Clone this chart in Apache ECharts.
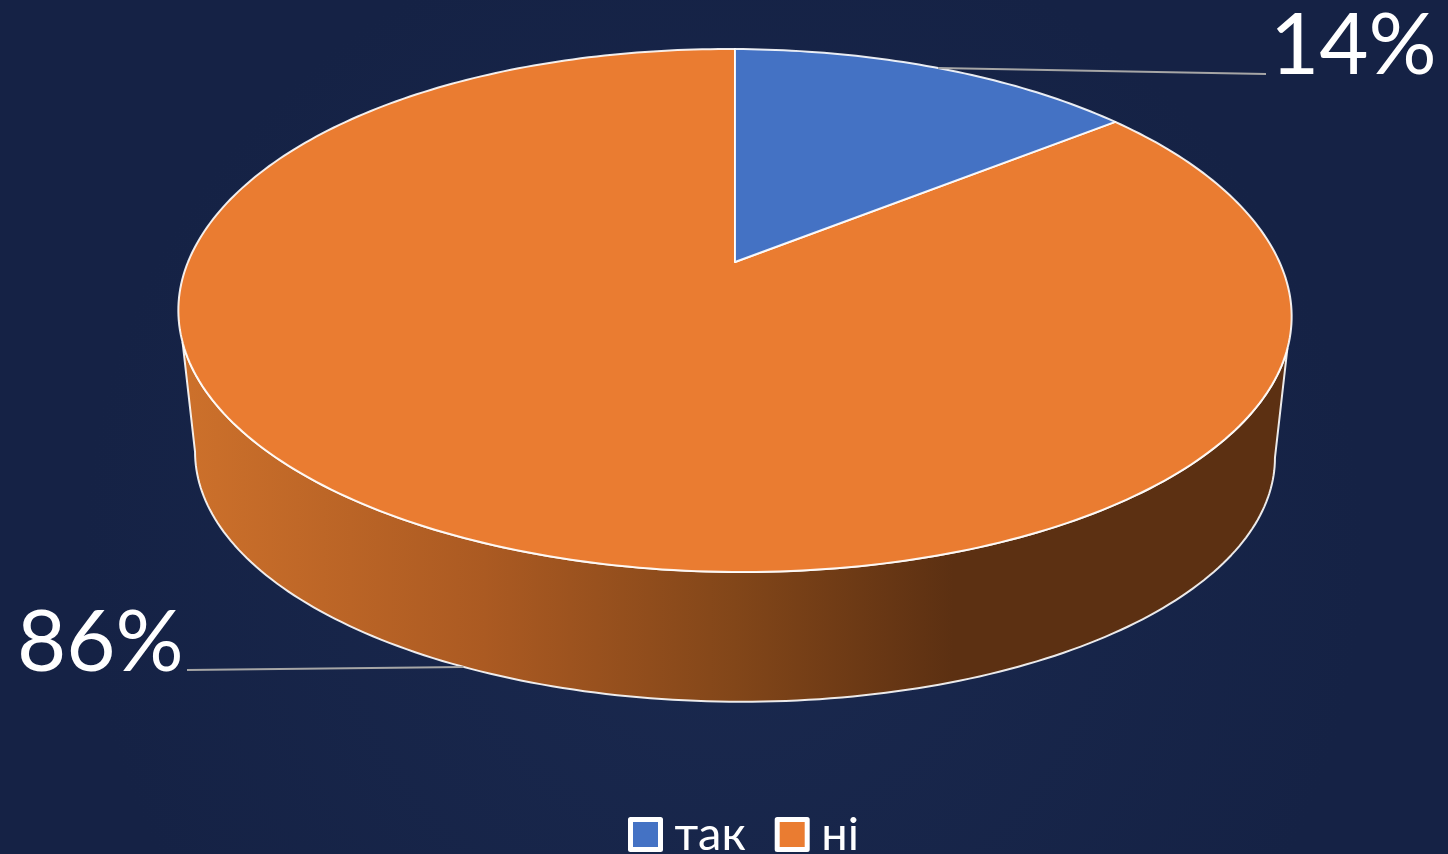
<!DOCTYPE html>
<html>
<head>
<meta charset="utf-8">
<style>
html, body { margin: 0; padding: 0; background: #17264a; overflow: hidden; }
#main { width: 1448px; height: 854px; }
</style>
<script src="https://cdn.jsdelivr.net/npm/echarts@6/dist/echarts.min.js"></script>
</head>
<body>
<div id="main"></div>
<script>
var categories = ['так', 'ні'];
var values = [14, 86];
var colors = ['#4472c4', '#ea7c31'];

var total = values[0] + values[1];
var rimColor = 'rgba(255,255,255,0.9)';
var leaderColor = '#a6a6a6';
var labelFont = '85px Lato';

// перспектива диска: кут рахуємо за годинниковою від верху
function topPoint(deg) {
    var t = deg * Math.PI / 180;
    var u = Math.sin(t), v = Math.cos(t);
    var w = 1 + 0.1855 * v;
    var bulge = v > 0 ? 12 * u * v * v : 0;
    return [735 + (547 * u + bulge) / w, 262 - (252.5 * v - 3 * u) / w + 3 * u * u];
}
function bottomPoint(deg) {
    var p = topPoint(deg);
    return [735 + 0.97 * (p[0] - 735), 452 + 0.955 * (p[1] - 310.5)];
}
function arc(fn, from, to) {
    var pts = [];
    var n = Math.ceil(Math.abs(to - from));
    for (var i = 0; i <= n; i++) {
        pts.push(fn(from + (to - from) * i / n));
    }
    return pts;
}

function face(from, to, color) {
    return {
        type: 'polygon',
        shape: { points: [[735, 262]].concat(arc(topPoint, from, to)) },
        style: { fill: color, stroke: rimColor, lineWidth: 2, lineJoin: 'round' }
    };
}
function leader(p1, p2) {
    return {
        type: 'line',
        shape: { x1: p1[0], y1: p1[1], x2: p2[0], y2: p2[1] },
        style: { stroke: leaderColor, lineWidth: 2 }
    };
}
function label(text, x, y) {
    return {
        type: 'text',
        style: { text: text, x: x, y: y, font: labelFont, fill: '#fff', textAlign: 'left', textVerticalAlign: 'middle' }
    };
}

var wallFill = new echarts.graphic.LinearGradient(190, 0, 1280, 0, [
    { offset: 0, color: '#cc702b' },
    { offset: 0.27, color: '#ab5a22' },
    { offset: 0.5, color: '#824619' },
    { offset: 0.7, color: '#5c3012' },
    { offset: 1, color: '#5c3012' }
], true);

function renderNi(params, api) {
    var start = values[0] / total * 360;
    var mid = start + api.value(0) / total * 180;
    var wall = arc(topPoint, 107.6, 252.4).concat(arc(bottomPoint, 259.3, 100.7));
    return {
        type: 'group',
        children: [
            { type: 'polygon', shape: { points: wall }, style: { fill: wallFill, stroke: rimColor, lineWidth: 2, lineJoin: 'round' } },
            face(start, 360, colors[1]),
            leader(bottomPoint(mid), [187, 670]),
            label(api.value(0) + '%', 17, 644)
        ]
    };
}
function renderTak(params, api) {
    var end = api.value(0) / total * 360;
    return {
        type: 'group',
        children: [
            face(0, end, colors[0]),
            leader(topPoint(end / 2), [1266, 74]),
            label(api.value(0) + '%', 1270, 47)
        ]
    };
}

var myChart = echarts.init(document.getElementById('main'));
var option = {
    animation: false,
    backgroundColor: new echarts.graphic.RadialGradient(0.5, 0.65, 0.75, [
        { offset: 0, color: '#1a294f' },
        { offset: 1, color: '#152245' }
    ]),
    legend: {
        data: categories,
        left: 628,
        top: 811,
        padding: 0,
        icon: 'rect',
        itemWidth: 30,
        itemHeight: 30,
        itemGap: 29,
        itemStyle: { borderColor: '#fff', borderWidth: 5, borderJoin: 'round' },
        textStyle: { color: '#fff', fontFamily: 'Lato', fontSize: 47, padding: [8, 0, 0, 9] }
    },
    series: [
        { type: 'custom', name: categories[1], coordinateSystem: 'none', renderItem: renderNi, data: [[values[1]]], itemStyle: { color: colors[1] }, silent: true, z: 1 },
        { type: 'custom', name: categories[0], coordinateSystem: 'none', renderItem: renderTak, data: [[values[0]]], itemStyle: { color: colors[0] }, silent: true, z: 2 }
    ]
};
myChart.setOption(option);
</script>
</body>
</html>
